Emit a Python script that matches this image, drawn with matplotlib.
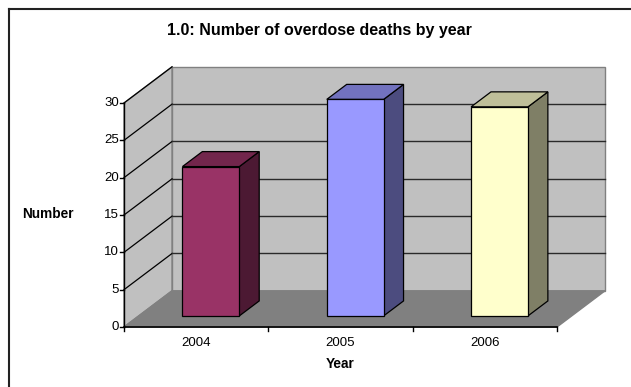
import matplotlib.pyplot as plt
from matplotlib.patches import Polygon
from matplotlib.lines import Line2D

years = ["2004", "2005", "2006"]
deaths = [20, 29, 28]
front_colors = ["#993366", "#9999FF", "#FFFFCC"]
y_ticks = [0, 5, 10, 15, 20, 25, 30]

W, H = 631, 387
# depth of the 3d box, in data units (x: categories, y: value)
DX, DY = 0.333, 4.85
BAR_HALF = 0.197
D_FRONT, D_BACK = 0.306, 0.72
YMAX = 30


def shade(hex_color, f):
    r, g, b = (int(hex_color[i:i + 2], 16) for i in (1, 3, 5))
    return "#%02x%02x%02x" % (int(r * f), int(g * f), int(b * f))


def proj(x, y, d):
    return (x + d * DX, y + d * DY)


fig = plt.figure(figsize=(W / 100, H / 100), dpi=100)
plt.rcParams["font.family"] = ["Liberation Sans", "DejaVu Sans"]

# axes placed so that the front plane runs 124..557 px and 327..103 px
x_left, x_right = 124, 124 + (557 - 124) * (3 + DX) / 3
y_bot, y_top = 327, 327 - (327 - 103) * (YMAX + DY) / YMAX
ax = fig.add_axes([x_left / W, (H - y_bot) / H, (x_right - x_left) / W, (y_bot - y_top) / H])
ax.set_xlim(0, 3 + DX)
ax.set_ylim(0, YMAX + DY)
ax.axis("off")

n = len(years)
wall = "#C0C0C0"
edge = "#808080"

# left wall, back wall, floor
ax.add_patch(Polygon([proj(0, 0, 0), proj(0, YMAX, 0), proj(0, YMAX, 1), proj(0, 0, 1)],
                     facecolor=wall, edgecolor=edge, lw=1, clip_on=False, zorder=1))
ax.add_patch(Polygon([proj(0, 0, 1), proj(0, YMAX, 1), proj(n, YMAX, 1), proj(n, 0, 1)],
                     facecolor=wall, edgecolor=edge, lw=1, clip_on=False, zorder=1))
ax.add_patch(Polygon([proj(0, 0, 0), proj(n, 0, 0), proj(n, 0, 1), proj(0, 0, 1)],
                     facecolor="#808080", edgecolor="#808080", lw=1, clip_on=False, zorder=1))

# gridlines on the walls
for v in y_ticks[1:-1]:
    p0, p1, p2 = proj(0, v, 0), proj(0, v, 1), proj(n, v, 1)
    ax.plot([p0[0], p1[0]], [p0[1], p1[1]], color="#000000", lw=0.9, clip_on=False, zorder=2)
    ax.plot([p1[0], p2[0]], [p1[1], p2[1]], color="#2a2a2a", lw=1.0, clip_on=False, zorder=2)
p0, p1 = proj(0, YMAX, 0), proj(0, YMAX, 1)
ax.plot([p0[0], p1[0]], [p0[1], p1[1]], color="#000000", lw=0.9, clip_on=False, zorder=2)

# bars
for i, (v, c) in enumerate(zip(deaths, front_colors)):
    x0, x1 = i + 0.5 - BAR_HALF, i + 0.5 + BAR_HALF
    front = [proj(x0, 0, D_FRONT), proj(x0, v, D_FRONT), proj(x1, v, D_FRONT), proj(x1, 0, D_FRONT)]
    top = [proj(x0, v, D_FRONT), proj(x0, v, D_BACK), proj(x1, v, D_BACK), proj(x1, v, D_FRONT)]
    side = [proj(x1, 0, D_FRONT), proj(x1, v, D_FRONT), proj(x1, v, D_BACK), proj(x1, 0, D_BACK)]
    for poly, f in ((side, 0.5), (top, 0.75), (front, 1.0)):
        ax.add_patch(Polygon(poly, facecolor=shade(c, f), edgecolor="#000000", lw=0.9,
                             clip_on=False, zorder=3))

# value axis
ax.plot([0, 0], [0, YMAX], color="#000000", lw=1, clip_on=False, zorder=4)
tick_dx = 4 / 144.33
for v in y_ticks:
    ax.plot([-tick_dx, 0], [v, v], color="#000000", lw=1, clip_on=False, zorder=4)
    ax.text(-tick_dx - 0.005, v, str(v), ha="right", va="center", fontsize=9.5)

# category axis
ax.plot([0, n], [0, 0], color="#000000", lw=1.2, clip_on=False, zorder=4)
tick_dy = 4 / 7.467
for i in range(n + 1):
    ax.plot([i, i], [0, -tick_dy], color="#000000", lw=1, clip_on=False, zorder=4)
for i, yr in enumerate(years):
    ax.text(i + 0.5, -2.1, yr, ha="center", va="center", fontsize=9.5)

fig.text(340 / W, 1 - 364 / H, "Year", ha="center", va="center", fontsize=9.8, fontweight="bold")
fig.text(48 / W, 1 - 214 / H, "Number", ha="center", va="center", fontsize=9.8, fontweight="bold")
fig.text(319 / W, 1 - 30 / H, "1.0: Number of overdose deaths by year", ha="center", va="center",
         fontsize=11.5, fontweight="bold")

# outer frame, right and bottom edges fall outside the image
fig.add_artist(Line2D([8.5 / W, 8.5 / W], [0, 1 - 8.5 / H], color="#222222", lw=1.5))
fig.add_artist(Line2D([8.5 / W, 1], [1 - 8.5 / H, 1 - 8.5 / H], color="#222222", lw=1.5))

fig.savefig("out.png", dpi=100)
